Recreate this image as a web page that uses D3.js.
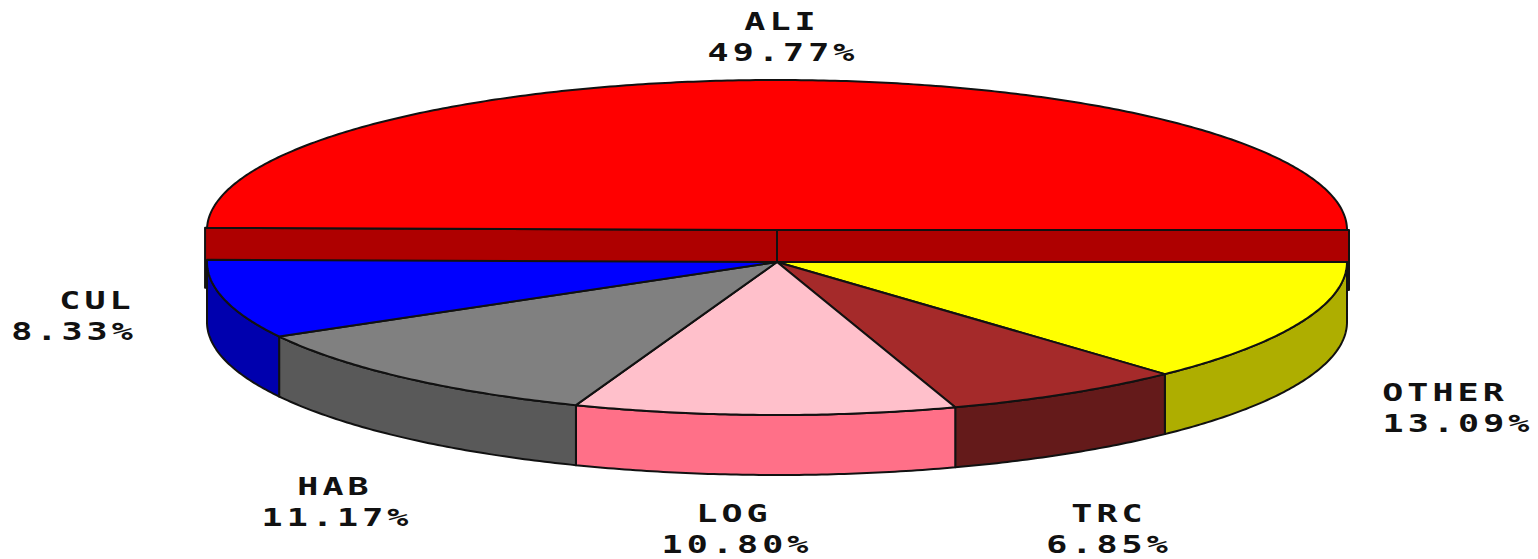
<!DOCTYPE html>
<html>
<head>
<meta charset="utf-8">
<script src="https://cdn.jsdelivr.net/npm/d3@7"></script>
<style>
  html, body { margin: 0; padding: 0; background: #fff; overflow: hidden; }
  text { font-family: "DejaVu Sans Mono", monospace; font-weight: bold; font-size: 25px; fill: #111; letter-spacing: 2.9px; }
</style>
</head>
<body>
<div id="viz-container"></div>
<script>
// Slices run clockwise from 3 o'clock
const categories = ["OTHER", "TRC", "LOG", "HAB", "CUL", "ALI"];
const shares = [13.09, 6.85, 10.80, 11.17, 8.33, 49.77];
const shareLabels = ["13.09%", "6.85%", "10.80%", "11.17%", "8.33%", "49.77%"];
const faceColors = ["#ffff00", "#a52a2a", "#ffc0cb", "#808080", "#0000ff", "#ff0000"];
const sideColors = ["#aeae00", "#641a1a", "#ff7088", "#595959", "#0000ae", "#ae0000"];

// Label centres: [name x, percent x, name baseline]
const labelSpots = {
    OTHER: [1445, 1458, 401],
    TRC: [1109, 1109, 522],
    LOG: [734, 737, 522],
    HAB: [335, 337, 495],
    CUL: [97, 74, 309],
    ALI: [782, 783, 30]
};

const width = 1538, height = 559;
const depth = 60;

const svg = d3.select("#viz-container").append("svg")
    .attr("width", width)
    .attr("height", height)
    .style("display", "block");

// unit circle -> tilted ellipse on screen
const x = d3.scaleLinear().domain([-1, 1]).range([207, 1347]);
const y = d3.scaleLinear().domain([-1, 1]).range([109, 415]);
// ALI is pulled up out of the pie, so it has its own vertical scale
const yAli = d3.scaleLinear().domain([-1, 1]).range([80, 380]);

const arcs = d3.pie().sort(null).startAngle(Math.PI / 2).endAngle(Math.PI * 2.5)
    .value(d => d.share)(categories.map((name, i) => ({
        name, share: shares[i], label: shareLabels[i], face: faceColors[i], side: sideColors[i]
    })));

const line = d3.line();

function rimPoints(a0, a1, yScale, dy) {
    const steps = Math.max(2, Math.ceil((a1 - a0) / 0.01));
    return d3.range(steps + 1).map(i => {
        const a = a0 + (a1 - a0) * i / steps;
        return [x(Math.sin(a)), yScale(-Math.cos(a)) + dy];
    });
}

function facePath(d, yScale) {
    return line([[x(0), yScale(0)], ...rimPoints(d.startAngle, d.endAngle, yScale, 0)]) + "Z";
}

function sidePath(d) {
    // only the part of the rim that faces the viewer
    const a0 = Math.max(d.startAngle, Math.PI / 2);
    const a1 = Math.min(d.endAngle, Math.PI * 1.5);
    return line([...rimPoints(a0, a1, y, 0), ...rimPoints(a0, a1, y, depth).reverse()]) + "Z";
}

const outline = sel => sel
    .attr("stroke", "#111")
    .attr("stroke-width", 2)
    .attr("stroke-linejoin", "round");

// ALI first: its cut faces sit behind the other slices
const ali = arcs.find(d => d.data.name === "ALI");
const rest = arcs.filter(d => d !== ali);

[ali.startAngle, ali.endAngle].forEach(a => {
    const ex = x(Math.sin(a)) + (Math.sin(a) > 0 ? 2 : -2);
    const ey = yAli(-Math.cos(a));
    svg.append("path")
        .attr("d", line([[x(0), yAli(0)], [ex, ey], [ex, ey + depth], [x(0), yAli(0) + depth]]) + "Z")
        .attr("fill", ali.data.side)
        .call(outline);
});

svg.append("path")
    .attr("d", facePath(ali, yAli))
    .attr("fill", ali.data.face)
    .call(outline);

svg.selectAll(".side")
    .data(rest)
    .enter()
    .append("path")
    .attr("class", "side")
    .attr("d", sidePath)
    .attr("fill", d => d.data.side)
    .call(outline);

svg.selectAll(".face")
    .data(rest)
    .enter()
    .append("path")
    .attr("class", "face")
    .attr("d", d => facePath(d, y))
    .attr("fill", d => d.data.face)
    .call(outline);

// Labels, stretched wide like the old bitmap font
arcs.forEach(d => {
    const [nameX, valueX, base] = labelSpots[d.data.name];
    svg.append("text")
        .attr("transform", `translate(${nameX},${base}) scale(1.4,1)`)
        .attr("text-anchor", "middle")
        .text(d.data.name);
    svg.append("text")
        .attr("transform", `translate(${valueX},${base + 31}) scale(1.4,1)`)
        .attr("text-anchor", "middle")
        .text(d.data.label);
});
</script>
</body>
</html>
